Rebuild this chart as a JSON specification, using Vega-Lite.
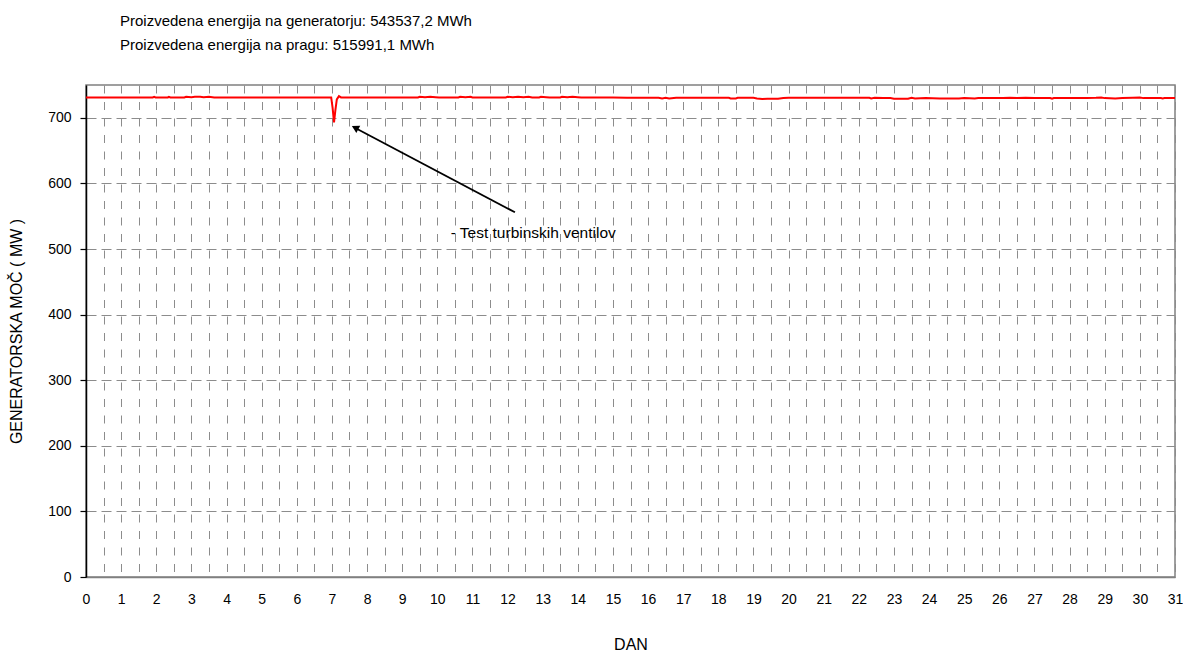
{
  "$schema": "https://vega.github.io/schema/vega-lite/v6.json",
  "width": 1089,
  "height": 492,
  "autosize": "none",
  "padding": {"left": 86, "top": 85, "right": 8, "bottom": 79},
  "background": "white",
  "config": {
    "font": "Liberation Sans",
    "view": {"stroke": "#808080", "strokeWidth": 1.5},
    "axisX": {
      "titleFont": "Liberation Sans", "titleFontSize": 16, "titleFontWeight": "normal", "titleColor": "#000000",
      "titlePadding": 30,
      "labelFontSize": 14, "labelColor": "#000000", "labelPadding": 15,
      "labelOverlap": false, "labelFlush": false,
      "ticks": false,
      "domainColor": "#808080", "domainWidth": 1.5,
      "grid": true, "gridColor": "#8c8c8c", "gridDash": [8, 8.5], "gridWidth": 1
    },
    "axisY": {
      "titleFont": "Liberation Sans", "titleFontSize": 16, "titleFontWeight": "normal", "titleColor": "#000000",
      "titlePadding": 23,
      "labelFontSize": 14, "labelColor": "#000000", "labelPadding": 9,
      "tickColor": "#000000", "tickSize": 6, "tickWidth": 1.2,
      "domainColor": "#000000", "domainWidth": 1.5,
      "grid": true, "gridColor": "#8c8c8c", "gridDash": [10, 5], "gridWidth": 1
    }
  },
  "title": {
    "text": ["Proizvedena energija na generatorju: 543537,2 MWh", "Proizvedena energija na pragu: 515991,1 MWh"],
    "anchor": "start",
    "frame": "group",
    "dx": 34,
    "offset": 32,
    "fontSize": 15,
    "fontWeight": "normal",
    "color": "#000000",
    "lineHeight": 24
  },
  "datasets": {
    "power": [
      {"dan": 0, "mw": 731}, {"dan": 1.0, "mw": 731}, {"dan": 1.9, "mw": 731}, {"dan": 1.94, "mw": 732}, {"dan": 1.98, "mw": 731},
      {"dan": 2.33, "mw": 731}, {"dan": 2.36, "mw": 732}, {"dan": 2.4, "mw": 731}, {"dan": 2.8, "mw": 731}, {"dan": 2.85, "mw": 732},
      {"dan": 3.0, "mw": 731.5}, {"dan": 3.1, "mw": 732}, {"dan": 3.25, "mw": 732}, {"dan": 3.35, "mw": 731.5}, {"dan": 3.5, "mw": 732},
      {"dan": 3.65, "mw": 731}, {"dan": 4.5, "mw": 731}, {"dan": 5.5, "mw": 731}, {"dan": 6.5, "mw": 731}, {"dan": 6.98, "mw": 731},
      {"dan": 7.02, "mw": 715}, {"dan": 7.06, "mw": 693}, {"dan": 7.1, "mw": 712}, {"dan": 7.14, "mw": 728}, {"dan": 7.2, "mw": 733},
      {"dan": 7.26, "mw": 731}, {"dan": 8.0, "mw": 731}, {"dan": 9.0, "mw": 731}, {"dan": 9.45, "mw": 731}, {"dan": 9.5, "mw": 732},
      {"dan": 9.65, "mw": 731.5}, {"dan": 9.8, "mw": 732}, {"dan": 9.95, "mw": 731.5}, {"dan": 10.05, "mw": 731}, {"dan": 10.6, "mw": 731},
      {"dan": 10.65, "mw": 732}, {"dan": 10.8, "mw": 731.5}, {"dan": 10.95, "mw": 732}, {"dan": 11.0, "mw": 731}, {"dan": 11.95, "mw": 731},
      {"dan": 12.0, "mw": 732}, {"dan": 12.15, "mw": 731.5}, {"dan": 12.3, "mw": 732}, {"dan": 12.45, "mw": 731.5}, {"dan": 12.6, "mw": 732},
      {"dan": 12.7, "mw": 731}, {"dan": 12.9, "mw": 731}, {"dan": 12.95, "mw": 732}, {"dan": 13.1, "mw": 731.5}, {"dan": 13.2, "mw": 731},
      {"dan": 13.5, "mw": 731}, {"dan": 13.55, "mw": 732}, {"dan": 13.7, "mw": 731.5}, {"dan": 13.85, "mw": 732}, {"dan": 14.0, "mw": 731.5},
      {"dan": 14.1, "mw": 731}, {"dan": 15.0, "mw": 731}, {"dan": 15.4, "mw": 730.5}, {"dan": 16.3, "mw": 730.5}, {"dan": 16.4, "mw": 729.5},
      {"dan": 16.5, "mw": 730.5}, {"dan": 16.6, "mw": 729.5}, {"dan": 16.8, "mw": 730.5}, {"dan": 18.3, "mw": 730.5}, {"dan": 18.35, "mw": 729.5},
      {"dan": 18.5, "mw": 729.5}, {"dan": 18.55, "mw": 730.5}, {"dan": 19.0, "mw": 730.5}, {"dan": 19.1, "mw": 729.5}, {"dan": 19.25, "mw": 728.5},
      {"dan": 19.4, "mw": 729}, {"dan": 19.7, "mw": 729}, {"dan": 19.85, "mw": 730}, {"dan": 20.0, "mw": 730.5}, {"dan": 21.5, "mw": 730.5},
      {"dan": 22.3, "mw": 730.5}, {"dan": 22.35, "mw": 729.5}, {"dan": 22.45, "mw": 730.5}, {"dan": 22.7, "mw": 730}, {"dan": 22.9, "mw": 730},
      {"dan": 23.0, "mw": 729}, {"dan": 23.4, "mw": 729}, {"dan": 23.5, "mw": 730.5}, {"dan": 23.6, "mw": 729.5}, {"dan": 23.9, "mw": 730},
      {"dan": 24.3, "mw": 729.5}, {"dan": 24.85, "mw": 729.5}, {"dan": 25.0, "mw": 730}, {"dan": 25.3, "mw": 729.5}, {"dan": 25.4, "mw": 730},
      {"dan": 26.1, "mw": 730}, {"dan": 26.3, "mw": 730.5}, {"dan": 26.5, "mw": 730}, {"dan": 26.75, "mw": 730.5}, {"dan": 27.0, "mw": 730},
      {"dan": 27.45, "mw": 730}, {"dan": 27.5, "mw": 729}, {"dan": 27.55, "mw": 730}, {"dan": 28.5, "mw": 730}, {"dan": 28.75, "mw": 730.5},
      {"dan": 28.9, "mw": 731}, {"dan": 29.0, "mw": 730}, {"dan": 29.3, "mw": 729.5}, {"dan": 29.5, "mw": 730}, {"dan": 29.8, "mw": 730.5},
      {"dan": 30.0, "mw": 731}, {"dan": 30.1, "mw": 730}, {"dan": 30.6, "mw": 730}, {"dan": 30.65, "mw": 729.5}, {"dan": 30.7, "mw": 730},
      {"dan": 31.0, "mw": 730}
    ],
    "arrow": [
      {"x1": 12.21, "y1": 556, "x2": 7.68, "y2": 684}
    ],
    "arrowhead": [
      {"x": 7.66, "y": 685}
    ],
    "note": [
      {"x": 10.38, "y": 524, "label": "- Test turbinskih ventilov"}
    ]
  },
  "layer": [
    {
      "data": {"name": "power"},
      "mark": {"type": "line", "color": "#ff0000", "strokeWidth": 2, "clip": true},
      "encoding": {
        "x": {
          "field": "dan", "type": "quantitative",
          "scale": {"domain": [0, 31], "nice": false, "zero": false},
          "axis": {
            "title": "DAN",
            "values": [0,0.5,1,1.5,2,2.5,3,3.5,4,4.5,5,5.5,6,6.5,7,7.5,8,8.5,9,9.5,10,10.5,11,11.5,12,12.5,13,13.5,14,14.5,15,15.5,16,16.5,17,17.5,18,18.5,19,19.5,20,20.5,21,21.5,22,22.5,23,23.5,24,24.5,25,25.5,26,26.5,27,27.5,28,28.5,29,29.5,30,30.5,31],
            "labelExpr": "datum.value % 1 == 0 ? format(datum.value, 'd') : ''"
          }
        },
        "y": {
          "field": "mw", "type": "quantitative",
          "scale": {"domain": [0, 750], "nice": false},
          "axis": {
            "title": "GENERATORSKA MOČ ( MW )",
            "values": [0, 100, 200, 300, 400, 500, 600, 700]
          }
        }
      }
    },
    {
      "data": {"name": "arrow"},
      "mark": {"type": "rule", "color": "#000000", "strokeWidth": 1.8},
      "encoding": {
        "x": {"field": "x1", "type": "quantitative",
          "axis": {
            "title": "DAN",
            "values": [0,0.5,1,1.5,2,2.5,3,3.5,4,4.5,5,5.5,6,6.5,7,7.5,8,8.5,9,9.5,10,10.5,11,11.5,12,12.5,13,13.5,14,14.5,15,15.5,16,16.5,17,17.5,18,18.5,19,19.5,20,20.5,21,21.5,22,22.5,23,23.5,24,24.5,25,25.5,26,26.5,27,27.5,28,28.5,29,29.5,30,30.5,31],
            "labelExpr": "datum.value % 1 == 0 ? format(datum.value, 'd') : ''"
          }},
        "y": {"field": "y1", "type": "quantitative",
          "axis": {
            "title": "GENERATORSKA MOČ ( MW )",
            "values": [0, 100, 200, 300, 400, 500, 600, 700]
          }},
        "x2": {"field": "x2"},
        "y2": {"field": "y2"}
      }
    },
    {
      "data": {"name": "arrowhead"},
      "mark": {"type": "point", "shape": "triangle-up", "filled": true, "color": "#000000", "opacity": 1, "size": 70, "angle": 298},
      "encoding": {
        "x": {"field": "x", "type": "quantitative",
          "axis": {
            "title": "DAN",
            "values": [0,0.5,1,1.5,2,2.5,3,3.5,4,4.5,5,5.5,6,6.5,7,7.5,8,8.5,9,9.5,10,10.5,11,11.5,12,12.5,13,13.5,14,14.5,15,15.5,16,16.5,17,17.5,18,18.5,19,19.5,20,20.5,21,21.5,22,22.5,23,23.5,24,24.5,25,25.5,26,26.5,27,27.5,28,28.5,29,29.5,30,30.5,31],
            "labelExpr": "datum.value % 1 == 0 ? format(datum.value, 'd') : ''"
          }},
        "y": {"field": "y", "type": "quantitative",
          "axis": {
            "title": "GENERATORSKA MOČ ( MW )",
            "values": [0, 100, 200, 300, 400, 500, 600, 700]
          }}
      }
    },
    {
      "data": {"name": "note"},
      "mark": {"type": "text", "align": "left", "baseline": "middle", "fontSize": 15.5, "font": "Liberation Sans", "color": "#000000"},
      "encoding": {
        "x": {"field": "x", "type": "quantitative",
          "axis": {
            "title": "DAN",
            "values": [0,0.5,1,1.5,2,2.5,3,3.5,4,4.5,5,5.5,6,6.5,7,7.5,8,8.5,9,9.5,10,10.5,11,11.5,12,12.5,13,13.5,14,14.5,15,15.5,16,16.5,17,17.5,18,18.5,19,19.5,20,20.5,21,21.5,22,22.5,23,23.5,24,24.5,25,25.5,26,26.5,27,27.5,28,28.5,29,29.5,30,30.5,31],
            "labelExpr": "datum.value % 1 == 0 ? format(datum.value, 'd') : ''"
          }},
        "y": {"field": "y", "type": "quantitative",
          "axis": {
            "title": "GENERATORSKA MOČ ( MW )",
            "values": [0, 100, 200, 300, 400, 500, 600, 700]
          }},
        "text": {"field": "label"}
      }
    }
  ]
}
